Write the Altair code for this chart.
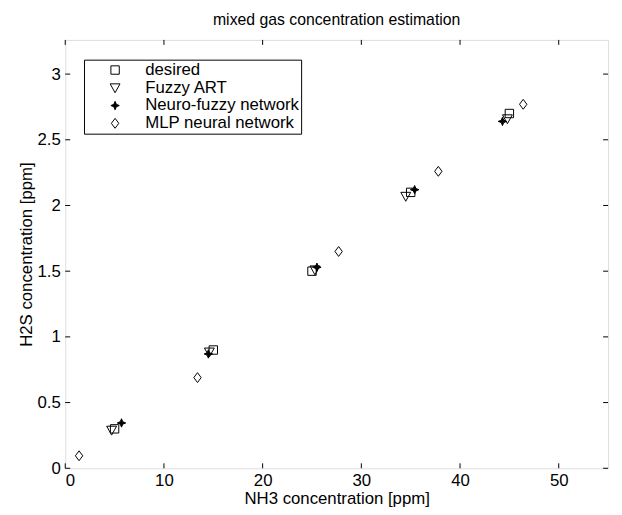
import altair as alt
import pandas as pd

series_names = ["desired", "Fuzzy ART", "Neuro-fuzzy network", "MLP neural network"]

desired_x = [5, 15, 25, 35, 45]
desired_y = [0.3, 0.9, 1.5, 2.1, 2.7]
fuzzy_x = [4.7, 14.6, 25.3, 34.5, 44.8]
fuzzy_y = [0.29, 0.885, 1.51, 2.07, 2.66]
neuro_x = [5.7, 14.5, 25.5, 35.4, 44.3]
neuro_y = [0.345, 0.87, 1.53, 2.12, 2.64]
mlp_x = [1.4, 13.4, 27.7, 37.8, 46.4]
mlp_y = [0.095, 0.69, 1.65, 2.26, 2.77]

x_ticks = [0, 10, 20, 30, 40, 50]
y_ticks = [0, 0.5, 1, 1.5, 2, 2.5, 3]

rows = []
for name, xs, ys in zip(series_names,
                        [desired_x, fuzzy_x, neuro_x, mlp_x],
                        [desired_y, fuzzy_y, neuro_y, mlp_y]):
    for a, b in zip(xs, ys):
        rows.append({"series": name, "x": a, "y": b})
df = pd.DataFrame(rows)
xt = pd.DataFrame({"x": x_ticks})
yt = pd.DataFrame({"y": y_ticks})

FONT = "Liberation Sans"
FS = 17
W, H = 550, 434

shape_range = [
    "M-0.85,-0.85H0.85V0.85H-0.85Z",
    "M-1,-0.8L1,-0.8L0,1Z",
    "M0,-0.85L0.25,-0.25L0.85,0L0.25,0.25L0,0.85L-0.25,0.25L-0.85,0L-0.25,-0.25Z",
    "M0,-1L0.75,0L0,1L-0.75,0Z",
]
fill_range = ["transparent", "transparent", "black", "transparent"]

xscale = alt.Scale(domain=[0, 55], nice=False, zero=False)
yscale = alt.Scale(domain=[0, 3.26], nice=False, zero=False)

xaxis = alt.Axis(values=x_ticks, ticks=False, domain=False, grid=False,
                 labelFont=FONT, labelFontSize=FS, labelColor="black",
                 labelPadding=4, titleFont=FONT, titleFontSize=FS,
                 titleFontWeight="normal", titleColor="black", titlePadding=3)
yaxis = alt.Axis(values=y_ticks, format="~g", ticks=False, domain=False, grid=False,
                 labelFont=FONT, labelFontSize=FS, labelColor="black",
                 labelPadding=5, titleFont=FONT, titleFontSize=FS,
                 titleFontWeight="normal", titleColor="black", titlePadding=2)
XT = "NH3 concentration [ppm]"
YT = "H2S concentration [ppm]"

legend = alt.Legend(
    title=None, orient="none", legendX=19, legendY=20,
    strokeColor="black", fillColor="white", padding=2,
    symbolOffset=21, labelOffset=22, rowPadding=0,
    labelFont=FONT, labelFontSize=FS, labelColor="black",
    symbolStrokeWidth=1, symbolSize=100, symbolOpacity=1,
    cornerRadius=0,
)

points = alt.Chart(df).mark_point(
    strokeWidth=1, size=100, opacity=1
).encode(
    x=alt.X("x:Q", scale=xscale, title=XT, axis=xaxis),
    y=alt.Y("y:Q", scale=yscale, title=YT, axis=yaxis),
    shape=alt.Shape("series:N", scale=alt.Scale(domain=series_names, range=shape_range), legend=legend),
    fill=alt.Fill("series:N", scale=alt.Scale(domain=series_names, range=fill_range), legend=legend),
    stroke=alt.Stroke("series:N", scale=alt.Scale(domain=series_names, range=["black"] * 4), legend=legend),
)

tick_len = 5
bottom_ticks = alt.Chart(xt).mark_rule(color="black").encode(
    x=alt.X("x:Q", scale=xscale, title=XT, axis=xaxis), y=alt.value(H), y2=alt.value(H - tick_len))
top_ticks = alt.Chart(xt).mark_rule(color="black").encode(
    x=alt.X("x:Q", scale=xscale, title=XT, axis=xaxis), y=alt.value(0), y2=alt.value(tick_len))
left_ticks = alt.Chart(yt).mark_rule(color="black").encode(
    y=alt.Y("y:Q", scale=yscale, title=YT, axis=yaxis), x=alt.value(0), x2=alt.value(tick_len))
right_ticks = alt.Chart(yt).mark_rule(color="black").encode(
    y=alt.Y("y:Q", scale=yscale, title=YT, axis=yaxis), x=alt.value(W), x2=alt.value(W - tick_len))

chart = alt.layer(points, bottom_ticks, top_ticks, left_ticks, right_ticks).properties(
    width=W, height=H,
    title=alt.TitleParams("mixed gas concentration estimation", font=FONT, fontSize=16,
                          fontWeight="normal", color="black", offset=12, anchor="middle"),
    autosize=alt.AutoSizeParams(type="none"),
    padding={"left": 58, "top": 29, "right": 6, "bottom": 44},
).configure_view(stroke="black", strokeWidth=1).configure(background="white")

chart.save("out.html", embed_options={"renderer": "svg", "actions": False})
